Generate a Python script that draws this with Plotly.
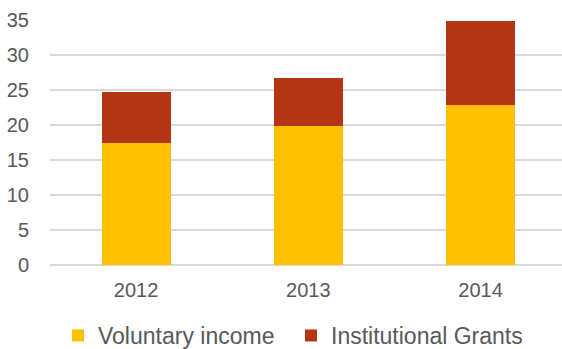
import plotly.graph_objects as go

years = ["2012", "2013", "2014"]
voluntary_income = [17.5, 19.8, 22.9]
institutional_grants = [7.2, 6.9, 12.0]
y_ticks = [0, 5, 10, 15, 20, 25, 30, 35]

YELLOW = "#FFC000"
RUST = "#B43514"
TEXT = "#595959"
GRID = "#D9D9D9"

fig = go.Figure()
fig.add_trace(go.Bar(x=years, y=voluntary_income, name="Voluntary income",
                     marker=dict(color=YELLOW, line=dict(width=0)), width=0.4))
fig.add_trace(go.Bar(x=years, y=institutional_grants, name="Institutional Grants",
                     marker=dict(color=RUST, line=dict(width=0)), width=0.4))

fig.update_layout(
    barmode="stack",
    width=562, height=349,
    margin=dict(l=50, r=0, t=20, b=84, autoexpand=False),
    paper_bgcolor="white", plot_bgcolor="white",
    font=dict(family="Liberation Sans, Arial, sans-serif", color=TEXT, size=20),
    legend=dict(orientation="h", x=0.0156, xanchor="left", y=-0.200, yanchor="top",
                font=dict(size=23, color=TEXT), itemwidth=30,
                entrywidth=188, traceorder="normal"),
    xaxis=dict(type="category", range=[-0.5, 2.473], showgrid=False,
               showline=False, zeroline=False,
               ticks="outside", ticklen=7, tickcolor="rgba(0,0,0,0)",
               tickfont=dict(size=20, color=TEXT)),
    yaxis=dict(range=[0, 35], tickvals=y_ticks, showgrid=True, gridcolor=GRID,
               gridwidth=2, zeroline=True, zerolinecolor=GRID, zerolinewidth=2,
               showline=False, ticks="outside", ticklen=16,
               tickcolor="rgba(0,0,0,0)", tickfont=dict(size=20, color=TEXT)),
)

fig.write_html("out.html")
